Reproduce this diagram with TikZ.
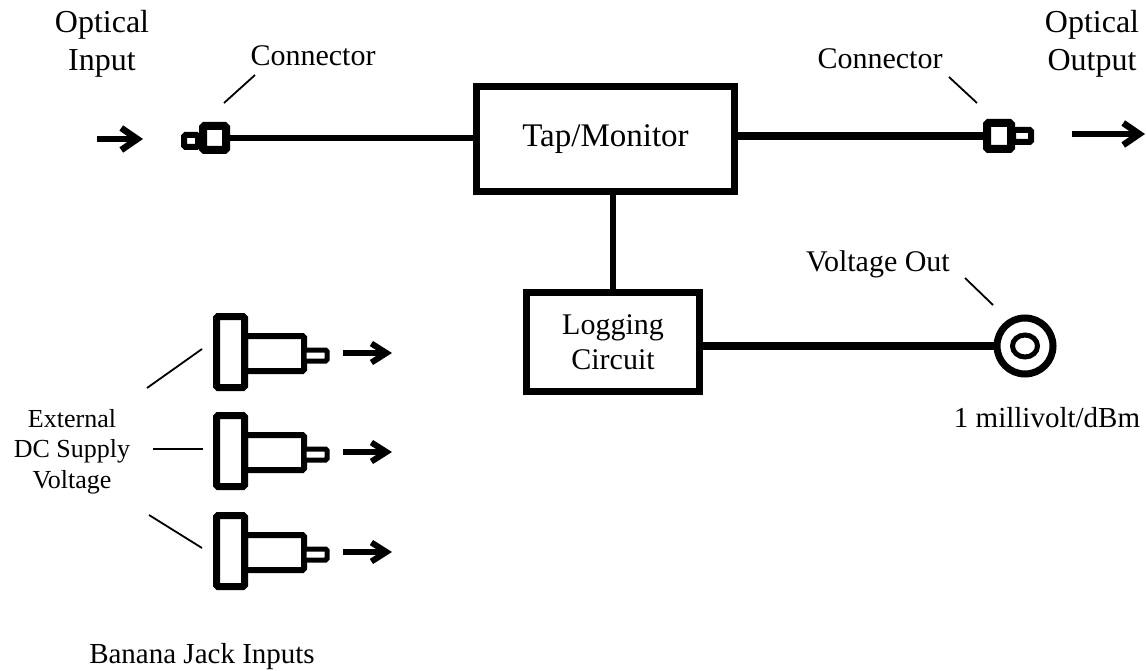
\documentclass[tikz,border=0pt]{standalone}
\usepackage{fontspec}
\setmainfont{Liberation Serif}
\usetikzlibrary{arrows.meta,shapes.geometric}
\begin{document}
\begin{tikzpicture}[x=1pt,y=-1pt,
  blk/.style={draw, line width=7pt, inner sep=0pt, fill=white},
  part/.style={draw, inner sep=0pt, fill=white, rounded corners=1.5pt},
  wire/.style={line width=7pt},
  lead/.style={line width=1.8pt},
  arr/.style={line width=6.5pt, -{Straight Barb[length=16pt,width=22pt]}},
  lbl/.style={inner sep=0pt, align=center},
]
\useasboundingbox (0,0) rectangle (1146,671);

% main blocks
\node[blk, minimum width=258pt, minimum height=105pt, font=\fontsize{33}{38}\selectfont] (tap) at (605.5,139) {Tap/Monitor};
\node[blk, minimum width=173pt, minimum height=99pt, align=center, font=\fontsize{30}{35}\selectfont] (log) at (613,342) {Logging\\Circuit};

% left connector
\node[part, line width=6pt, minimum width=14pt, minimum height=12pt] (lct) at (191,141) {};
\node[part, line width=8pt, minimum width=23pt, minimum height=24pt] (lcb) at (214.5,138) {};
% right connector
\node[part, line width=6pt, minimum width=18pt, minimum height=12pt] (rct) at (1022,136) {};
\node[part, line width=8pt, minimum width=24pt, minimum height=26pt] (rcb) at (999,136) {};

% voltage out jack
\node[circle, draw, line width=7pt, minimum size=56pt, inner sep=0pt] (vo) at (1025,346) {};
\node[ellipse, draw, line width=5pt, minimum width=25pt, minimum height=22pt, inner sep=0pt] (voi) at (vo.center) {};

% wires
\draw[wire, line width=6pt] (lcb.east) -- (lcb.east -| tap.west);
\draw[wire, line width=8pt] (tap.east |- rcb.west) -- (rcb.west);
\draw[wire, line width=6pt] (log.north) -- (log.north |- tap.south);
\draw[wire, line width=8pt] (log.east |- vo.west) -- (vo.west);

% optical arrows
\coordinate (la1) at (97,139);
\coordinate (la2) at (143,139);
\coordinate (ra1) at (1072,134);
\coordinate (ra2) at (1145,134);
\draw[arr] (la1) -- (la2);
\draw[arr] (ra1) -- (ra2);

% banana jacks
\foreach \i/\dy in {1/0,2/99,3/199} {
  \node[part, line width=6pt, minimum width=59pt, minimum height=35pt] (bd\i) at (274.5,353.5+\dy) {};
  \node[part, line width=5pt, minimum width=23pt, minimum height=11pt] (tp\i) at (315.5,355.5+\dy) {};
  \node[part, line width=7pt, minimum width=28pt, minimum height=71pt] (fl\i) at (230.5,352+\dy) {};
  \coordinate (bs\i) at (343,353+\dy);
  \coordinate (be\i) at (392,353+\dy);
  \draw[arr, line width=6pt, -{Straight Barb[length=15pt,width=19pt]}] (bs\i) -- (be\i);
}

% labels
\node[lbl, font=\fontsize{32}{38}\selectfont] (oin) at (102,43.5) {Optical\\Input};
\node[lbl, font=\fontsize{32}{38}\selectfont] (oout) at (1092,43.5) {Optical\\Output};
\node[lbl, anchor=base, font=\fontsize{30}{36}\selectfont] (lcl) at (313,66) {Connector};
\node[lbl, anchor=base, font=\fontsize{30}{36}\selectfont] (rcl) at (880,69) {Connector};
\node[lbl, anchor=base, font=\fontsize{30}{36}\selectfont] (vol) at (878,272) {Voltage Out};
\node[lbl, anchor=base, font=\fontsize{29}{34}\selectfont] (mvl) at (1047,427) {1 millivolt/dBm};
\node[lbl, font=\fontsize{26}{30.5}\selectfont] (ext) at (72,451.5) {External\\DC Supply\\Voltage};
\node[lbl, anchor=base, font=\fontsize{29}{34}\selectfont] (ban) at (202,663) {Banana Jack Inputs};

% leader lines
\coordinate (l1a) at (255,75);  \coordinate (l1b) at (224,103);
\coordinate (l2a) at (949,77);  \coordinate (l2b) at (977,103);
\coordinate (l3a) at (965,278); \coordinate (l3b) at (993,305);
\coordinate (e1a) at (147,388); \coordinate (e1b) at (202,349);
\coordinate (e2a) at (153,449); \coordinate (e2b) at (203,449);
\coordinate (e3a) at (149,515); \coordinate (e3b) at (202,548);
\draw[lead] (l1a) -- (l1b);
\draw[lead] (l2a) -- (l2b);
\draw[lead] (l3a) -- (l3b);
\draw[lead] (e1a) -- (e1b);
\draw[lead] (e2a) -- (e2b);
\draw[lead] (e3a) -- (e3b);
\end{tikzpicture}
\end{document}
